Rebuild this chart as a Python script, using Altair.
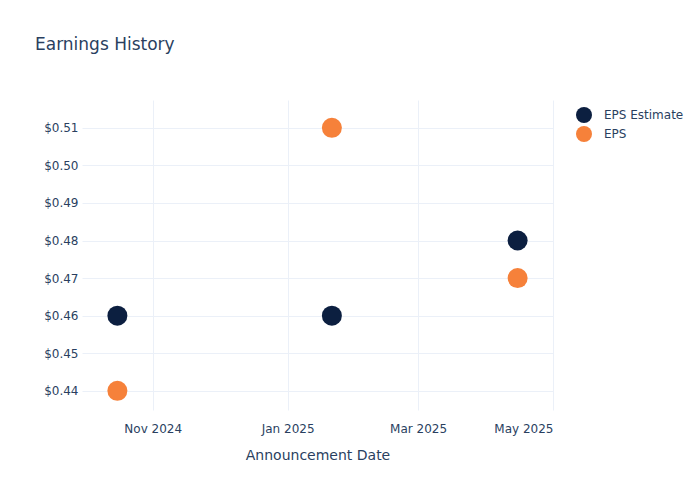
import altair as alt
import pandas as pd

dates = ["2024-10-16", "2025-01-21", "2025-04-15"]
eps_estimate = [0.46, 0.46, 0.48]
eps_actual = [0.44, 0.51, 0.47]
series_names = ["EPS Estimate", "EPS"]
series_colors = ["#0c1f40", "#f6813a"]
x_ticks = ["2024-11-01", "2025-01-01", "2025-03-01", "2025-05-01"]
y_ticks = [0.44, 0.45, 0.46, 0.47, 0.48, 0.49, 0.50, 0.51]

rows = []
for d, e in zip(dates, eps_estimate):
    rows.append({"date": d, "value": e, "series": "EPS Estimate"})
for d, a in zip(dates, eps_actual):
    rows.append({"date": d, "value": a, "series": "EPS"})
df = pd.DataFrame(rows)

FONT = "DejaVu Sans"
TXT = "#2a3f5f"
GRID = "#ebf0f8"

x_tick_values = [
    alt.DateTime(year=int(t[:4]), month=int(t[5:7]), date=int(t[8:10])) for t in x_ticks
]

chart = (
    alt.Chart(df)
    .mark_circle(opacity=1, size=400)
    .encode(
        x=alt.X(
            "date:T",
            title="Announcement Date",
            scale=alt.Scale(
                domain=[
                    alt.DateTime(year=2024, month=9, date=30),
                    alt.DateTime(year=2025, month=5, date=1),
                ]
            ),
            axis=alt.Axis(
                values=x_tick_values,
                format="%b %Y",
                labelFontSize=12,
                labelColor=TXT,
                labelFont=FONT,
                titleFont=FONT,
                titleFontSize=14,
                titleFontWeight="normal",
                titleColor=TXT,
                titlePadding=14,
                domain=False,
                ticks=False,
                labelPadding=13,
                gridColor=GRID,
            ),
        ),
        y=alt.Y(
            "value:Q",
            title=None,
            scale=alt.Scale(domain=[0.4349, 0.5174], nice=False, zero=False),
            axis=alt.Axis(
                values=y_ticks,
                format="$.2f",
                labelFontSize=12,
                labelColor=TXT,
                labelFont=FONT,
                domain=False,
                ticks=False,
                labelPadding=4,
                gridColor=GRID,
            ),
        ),
        color=alt.Color(
            "series:N",
            scale=alt.Scale(domain=series_names, range=series_colors),
            sort=series_names,
            legend=alt.Legend(
                title=None,
                orient="none",
                legendX=494,
                legendY=7,
                symbolSize=256,
                symbolType="circle",
                labelFontSize=12,
                labelColor=TXT,
                labelFont=FONT,
                labelOffset=12,
                rowPadding=3,
                symbolStrokeWidth=0,
            ),
        ),
        order=alt.Order("series:N"),
    )
    .properties(
        width=471,
        height=310,
        autosize=alt.AutoSizeParams(type="none"),
        padding={"left": 74, "top": 92, "right": 139, "bottom": 82},
        title=alt.TitleParams(
            "Earnings History",
            anchor="start",
            frame="group",
            dx=-47,
            dy=-42,
            fontSize=17,
            fontWeight="normal",
            font=FONT,
            color=TXT,
        ),
        background="white",
    )
    .configure_view(stroke=None)
)

chart.save("out.html", embed_options={"renderer": "svg", "actions": False})
